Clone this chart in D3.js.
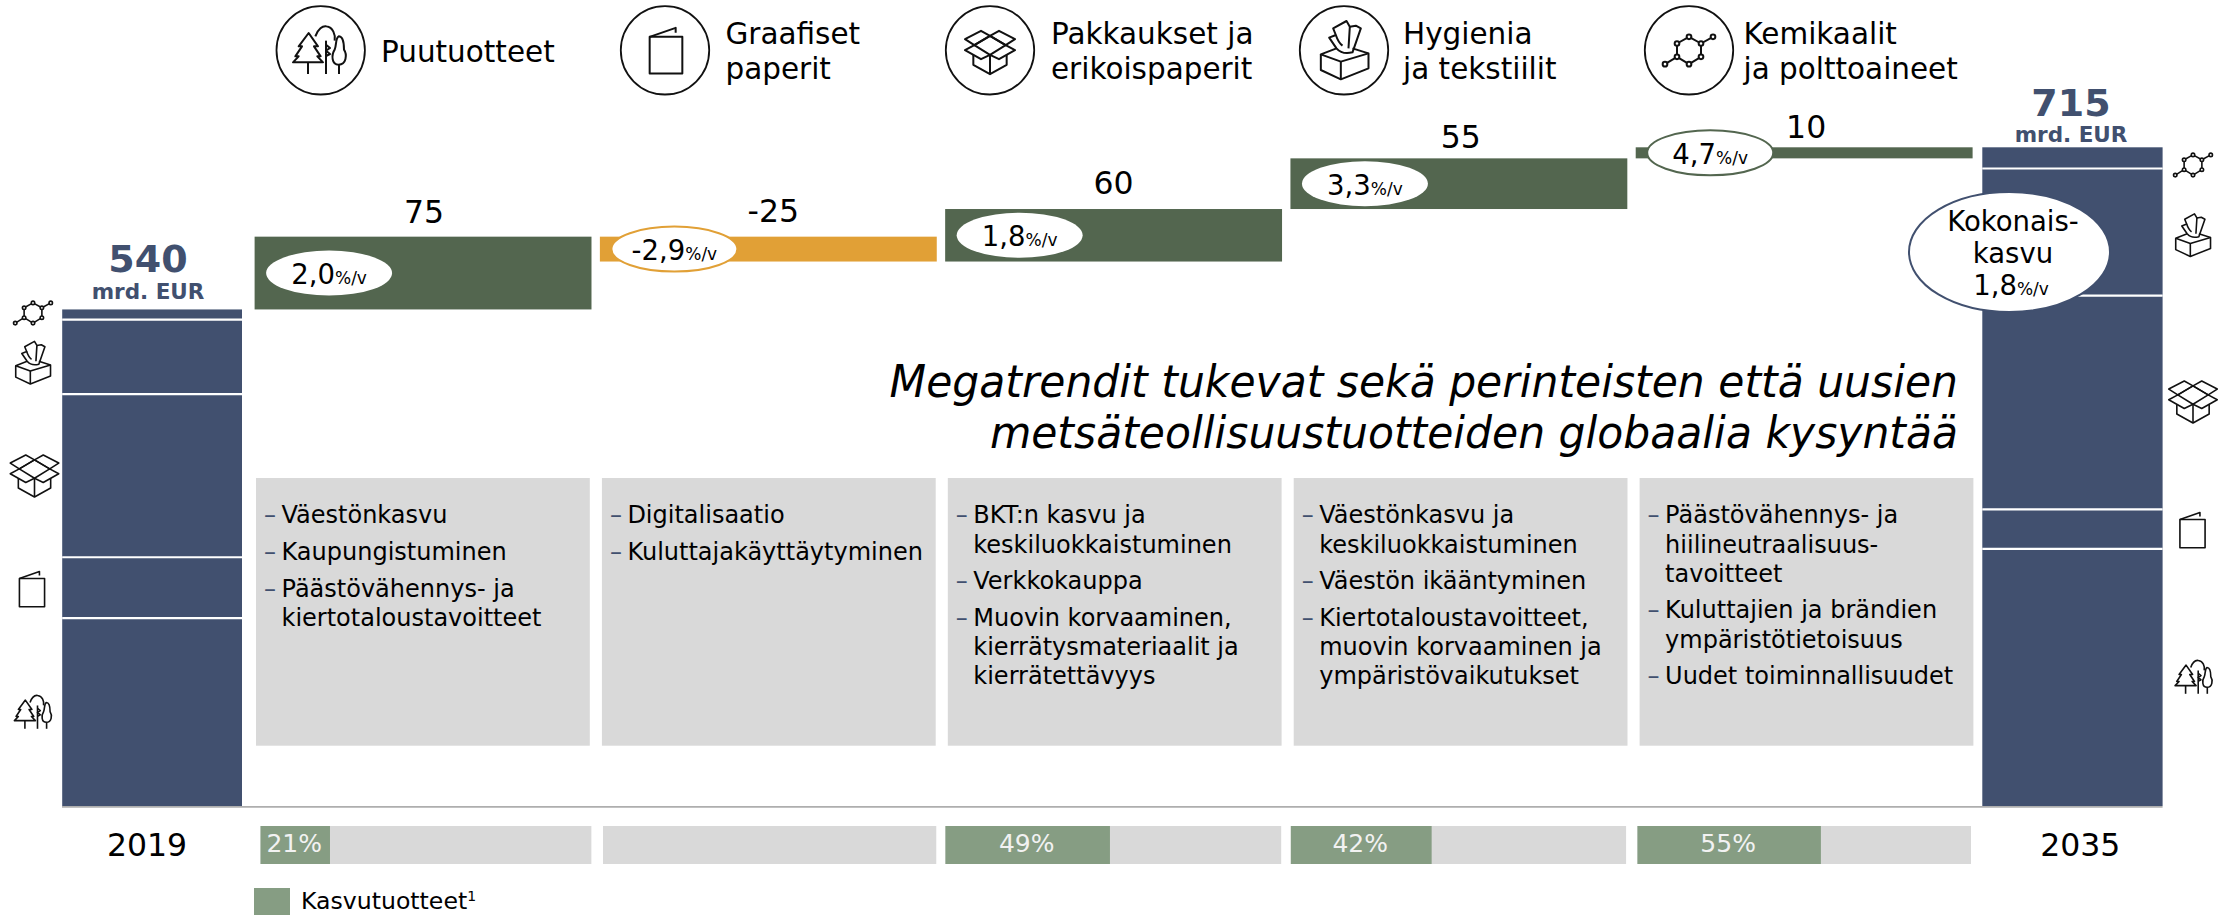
<!DOCTYPE html>
<html lang="fi">
<head>
<meta charset="utf-8">
<script src="https://cdn.jsdelivr.net/npm/d3@7/dist/d3.min.js"></script>
<style>
html,body{margin:0;padding:0;background:#fff;overflow:hidden}
svg{display:block}
text{font-family:"DejaVu Sans",Verdana,sans-serif;fill:#000}
</style>
</head>
<body>
<div id="chart"></div>
<script>
// ---------- data ----------
const categories = ["Puutuotteet","Graafiset paperit","Pakkaukset ja erikoispaperit","Hygienia ja tekstiilit","Kemikaalit ja polttoaineet"];
const categoryLines = [["Puutuotteet"],["Graafiset","paperit"],["Pakkaukset ja","erikoispaperit"],["Hygienia","ja tekstiilit"],["Kemikaalit","ja polttoaineet"]];
const iconNames = ["tree","booklet","box","tissue","molecule"];
const changeLabels = ["75","-25","60","55","10"];
const levels = [539,618,591,648,703,715];        // waterfall levels
const growthRates = ["2,0","-2,9","1,8","3,3","4,7"];
const totalStart = [204,66,177,81,11];           // 2019, bottom to top
const totalEnd = [279,43,232,138,23];            // 2035, bottom to top
const years = ["2019","2035"];
const totalLabels = ["540","715"];
const unitLabel = "mrd. EUR";
const totalGrowthLines = ["Kokonais-","kasvu"];
const totalGrowthRate = "1,8";
const rateUnit = "%/v";
const headline = ["Megatrendit tukevat sekä perinteisten että uusien","metsäteollisuustuotteiden globaalia kysyntää"];
const drivers = [
  [["Väestönkasvu"],["Kaupungistuminen"],["Päästövähennys- ja","kiertotaloustavoitteet"]],
  [["Digitalisaatio"],["Kuluttajakäyttäytyminen"]],
  [["BKT:n kasvu ja","keskiluokkaistuminen"],["Verkkokauppa"],["Muovin korvaaminen,","kierrätysmateriaalit ja","kierrätettävyys"]],
  [["Väestönkasvu ja","keskiluokkaistuminen"],["Väestön ikääntyminen"],["Kiertotaloustavoitteet,","muovin korvaaminen ja","ympäristövaikutukset"]],
  [["Päästövähennys- ja","hiilineutraalisuus-","tavoitteet"],["Kuluttajien ja brändien","ympäristötietoisuus"],["Uudet toiminnallisuudet"]]
];
const growthShare = [21,null,49,42,55];
const legendLabel = "Kasvutuotteet";
const legendNote = "1";

// ---------- palette & layout ----------
const NAVY="#41506f", GREEN="#53664f", ORANGE="#e1a036", GREY="#d9d9d9", LIGHT="#869d83";
const W=2231, H=915;
const svg=d3.select("#chart").append("svg").attr("width",W).attr("height",H);

const y=d3.scaleLinear().domain([0,715]).range([806,147.3]);
const x=d3.scaleBand().domain(categories).range([254.6,1972.6]).paddingInner(0.0243);
const xBox=d3.scaleBand().domain(categories).range([256,1973.4]).paddingInner(0.035);
const xStrip=d3.scaleBand().domain(categories).range([257.5,1971]).paddingInner(0.032);
const totalW=[[62.2,242],[1982.3,2162.6]];
const share=d3.scaleLinear().domain([0,100]);

// narrow a text horizontally while keeping its height
function squeeze(sel,k){
  sel.each(function(){
    const len=this.getComputedTextLength();
    d3.select(this).attr("textLength",len*k).attr("lengthAdjust","spacingAndGlyphs");
  });
  return sel;
}

// ---------- icons ----------
const iconDefs={
 tree:{c:[106,106],d:[
  "M72 55L42 95H52L32 125H42L25 143H115L98 125H108L88 95H100Z","M70 143V178",
  "M92 65C100 42 114 33 125 35C145 38 153 60 150 78","M124 78V178","M124 90L136 100L124 108L136 118L124 124",
  "M162 65C152 70 156 90 150 105C140 120 140 150 162 150C185 150 188 120 178 105C178 85 174 65 162 65Z","M163 150V178"]},
 booklet:{c:[111,101],d:["M62 60H160V170H62Z","M62 60L140 33V48"]},
 box:{c:[105,115],d:[
  "M55 122V152L105 180L155 152V122","M105 122V180",
  "M30 75L78 50L105 65L58 93Z","M105 65L132 50L180 75L152 93Z","M58 93L105 65L152 93L105 122Z",
  "M58 93L30 108L78 135L105 122","M152 93L180 108L132 135L105 122"]},
 tissue:{c:[106,105],d:[
  "M35 118V165L95 193L178 160V115L130 100","M82 100L35 118L95 140L178 115","M95 140V193",
  "M82 100L60 68L80 60L72 40L112 18L122 35L140 32L155 40L130 112C115 116 95 115 82 100Z",
  "M80 60C85 75 90 85 100 92","M122 35L118 100"]},
 molecule:{c:[104,106],d:["M104 65L140 85V125L104 147L68 125V85Z","M140 85L176 65","M68 125L32 147"],
  n:[[104,65],[68,85],[140,85],[68,125],[140,125],[104,147],[176,65],[32,147]]}
};
function drawIcon(name,cx,cy,s,sw){
  const def=iconDefs[name];
  const g=svg.append("g").attr("transform",`translate(${cx},${cy}) scale(${s/3}) translate(${-def.c[0]},${-def.c[1]})`)
    .attr("fill","none").attr("stroke","#111").attr("stroke-width",sw*3/s).attr("stroke-linejoin","round");
  g.selectAll("path").data(def.d).join("path").attr("d",d=>d);
  if(def.n) g.selectAll("circle").data(def.n).join("circle")
    .attr("cx",d=>d[0]).attr("cy",d=>d[1]).attr("r",7).attr("fill","#fff");
}

// ---------- header ----------
const headCx=[320.7,665,990,1344,1689], headTx=[381,725.5,1051,1403,1743.5];
const headIconC=[[320,50],[666,50.5],[990,52.5],[1344.5,50],[1689,50.5]];
categories.forEach((c,i)=>{
  svg.append("circle").attr("cx",headCx[i]).attr("cy",50.3).attr("r",44.2)
    .attr("fill","#fff").attr("stroke","#111").attr("stroke-width",1.8);
  drawIcon(iconNames[i],headIconC[i][0],headIconC[i][1],1,2);
  const lines=categoryLines[i];
  svg.selectAll(null).data(lines).join("text")
    .attr("x",headTx[i]).attr("y",(d,k)=>lines.length===1?62:44+k*35.3)
    .style("font-size","31px").text(d=>d).call(squeeze,0.95);
});

// ---------- totals ----------
function stacked(vals,j){
  const [x0,x1]=totalW[j];
  let cum=0;
  const segs=vals.map(v=>{const s={a:cum,b:cum+v};cum+=v;return s;});
  svg.append("g").selectAll("rect").data(segs).join("rect")
    .attr("x",x0).attr("width",x1-x0)
    .attr("y",d=>y(d.b)).attr("height",d=>y(d.a)-y(d.b)).attr("fill",NAVY);
  svg.append("g").selectAll("line").data(segs.slice(0,-1)).join("line")
    .attr("x1",x0).attr("x2",x1).attr("y1",d=>y(d.b)).attr("y2",d=>y(d.b))
    .attr("stroke","#fff").attr("stroke-width",2.2);
}
stacked(totalStart,0); stacked(totalEnd,1);

svg.append("line").attr("x1",62).attr("x2",2162.6).attr("y1",y(0)+0.9).attr("y2",y(0)+0.9)
  .attr("stroke","#aeaeae").attr("stroke-width",1.6);

const totalLabelX=[148,2071], totalBase=[271.7,116], unitBase=[299,141.7];
totalLabels.forEach((t,j)=>{
  svg.append("text").attr("x",totalLabelX[j]).attr("y",totalBase[j]).attr("text-anchor","middle")
    .style("font-size","38px").style("font-weight","700").style("fill",NAVY).text(t);
  svg.append("text").attr("x",totalLabelX[j]).attr("y",unitBase[j]).attr("text-anchor","middle")
    .style("font-size","21.5px").style("font-weight","700").style("fill",NAVY).text(unitLabel);
});

// ---------- waterfall ----------
const steps=categories.map((c,i)=>({c,i,a:levels[i],b:levels[i+1],label:changeLabels[i],rate:growthRates[i]}));
svg.append("g").selectAll("rect").data(steps).join("rect")
  .attr("x",d=>x(d.c)).attr("width",x.bandwidth())
  .attr("y",d=>y(Math.max(d.a,d.b))).attr("height",d=>Math.abs(y(d.a)-y(d.b)))
  .attr("fill",d=>d.b<d.a?ORANGE:GREEN);

const labelDx=[1,5,0,2,2], labelGap=[14,14.6,14.7,10,9.3];
svg.append("g").selectAll("text").data(steps).join("text")
  .attr("x",d=>x(d.c)+x.bandwidth()/2+labelDx[d.i])
  .attr("y",d=>y(Math.max(d.a,d.b))-labelGap[d.i])
  .attr("text-anchor","middle").style("font-size","31.5px").text(d=>d.label);

function rateText(sel,rate,big,small){
  sel.append("tspan").style("font-size",big+"px").text(rate);
  sel.append("tspan").style("font-size",small+"px").text(rateUnit);
}
const ellipseStroke=[null,ORANGE,null,null,GREEN];
steps.forEach(d=>{
  const cx=x(d.c)+74.5, cy=(y(d.a)+y(d.b))/2;
  svg.append("ellipse").attr("cx",cx).attr("cy",cy).attr("rx",63).attr("ry",22.5)
    .attr("fill","#fff").attr("stroke",ellipseStroke[d.i]||"none").attr("stroke-width",2);
  const t=svg.append("text").attr("x",cx).attr("y",cy+11).attr("text-anchor","middle");
  rateText(t,d.rate,27.5,17);
});

// total growth bubble
svg.append("ellipse").attr("cx",2009.5).attr("cy",252).attr("rx",100.5).attr("ry",60)
  .attr("fill","#fff").attr("stroke",NAVY).attr("stroke-width",2);
totalGrowthLines.forEach((l,k)=>{
  svg.append("text").attr("x",2013).attr("y",230.7+k*32).attr("text-anchor","middle")
    .style("font-size","27.5px").text(l);
});
rateText(svg.append("text").attr("x",2011).attr("y",294.7).attr("text-anchor","middle"),totalGrowthRate,27.5,17);

// ---------- headline ----------
svg.selectAll(null).data(headline).join("text")
  .attr("x",1958).attr("y",(d,k)=>396.7+k*51).attr("text-anchor","end")
  .style("font-size","44px").style("font-style","italic").text(d=>d).call(squeeze,0.965);

// ---------- driver boxes ----------
const LINE=29.2, PARA=36.6;
categories.forEach((c,i)=>{
  const bx=xBox(c);
  svg.append("rect").attr("x",bx).attr("y",478).attr("width",xBox.bandwidth()).attr("height",267.7).attr("fill",GREY);
  let by=523.3;
  drivers[i].forEach((para,p)=>{
    svg.append("text").attr("x",bx+8).attr("y",by).style("font-size","24px").style("fill",NAVY).text("–");
    para.forEach((ln,k)=>{
      svg.append("text").attr("x",bx+25.5).attr("y",by+k*LINE).style("font-size","24px").text(ln);
    });
    by+=(para.length-1)*LINE+PARA;
  });
});

// ---------- share strips ----------
const stripInset=[3,0.6,-1.9,-1.4,0.3];
categories.forEach((c,i)=>{
  const x0=xStrip(c)+stripInset[i], x1=xStrip(c)+xStrip.bandwidth();
  svg.append("rect").attr("x",x0).attr("y",826).attr("width",x1-x0).attr("height",38).attr("fill",GREY);
  if(growthShare[i]!=null){
    share.range([x0,x1]);
    svg.append("rect").attr("x",x0).attr("y",826).attr("width",share(growthShare[i])-x0).attr("height",38).attr("fill",LIGHT);
    svg.append("text").attr("x",(x0+share(growthShare[i]))/2-1).attr("y",851.7).attr("text-anchor","middle")
      .style("font-size","25px").style("fill","#f2f2f2").text(growthShare[i]+"%");
  }
});
const yearX=[147,2080.3];
years.forEach((t,j)=>svg.append("text").attr("x",yearX[j]).attr("y",855.7).attr("text-anchor","middle").style("font-size","31.5px").text(t));

// ---------- legend ----------
svg.append("rect").attr("x",254).attr("y",888).attr("width",36).attr("height",27).attr("fill",LIGHT);
const lg=svg.append("text").attr("x",301).attr("y",909).style("font-size","23.6px").text(legendLabel);
lg.append("tspan").attr("dy",-8).style("font-size","14px").text(legendNote);

// ---------- side icons ----------
const sideScale={tree:0.7,booklet:0.77,box:0.97,tissue:0.73,molecule:0.74};
const sideLeft=[[33.3,712],[32,589],[34.5,476],[33,362.5],[33,313]];
const sideRight=[[2194,677],[2192.5,530],[2193,402],[2193,235],[2193,165]];
iconNames.forEach((n,i)=>{
  drawIcon(n,sideLeft[i][0],sideLeft[i][1],sideScale[n],1.6);
  drawIcon(n,sideRight[i][0],sideRight[i][1],sideScale[n],1.6);
});
</script>
</body>
</html>
